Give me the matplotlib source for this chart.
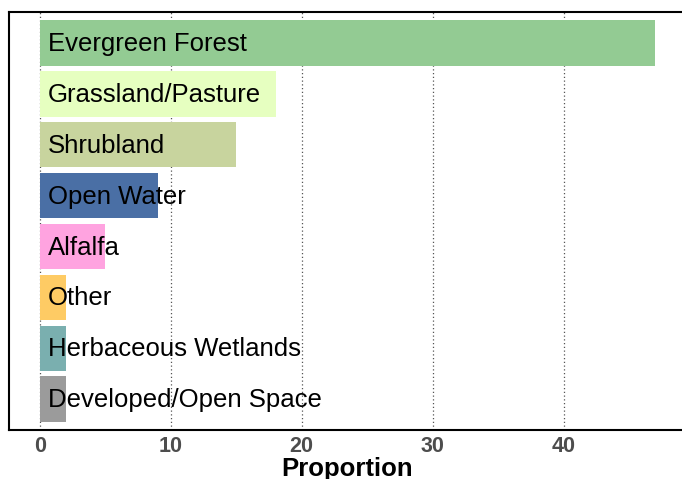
import matplotlib.pyplot as plt

# land cover proportions
categories = ['Evergreen Forest', 'Grassland/Pasture', 'Shrubland', 'Open Water',
              'Alfalfa', 'Other', 'Herbaceous Wetlands', 'Developed/Open Space']
proportion = [47, 18, 15, 9, 5, 2, 2, 2]
bar_colors = ['#93CB93', '#E6FFC0', '#C8D49E', '#4A6FA5',
              '#FFA3E0', '#FECB64', '#7AAFAF', '#9B9B9B']
xticks = [0, 10, 20, 30, 40]

plt.rcParams['font.family'] = ['Liberation Sans', 'DejaVu Sans']

fig = plt.figure(figsize=(6.82, 4.79), dpi=100)
ax = fig.add_axes([9 / 682, 49 / 479, 1 - 9 / 682 + 0.006, (430 - 12) / 479])

ypos = list(range(len(categories)))
ax.barh(ypos, proportion, height=0.9, color=bar_colors, zorder=2)
for y, name in zip(ypos, categories):
    ax.text(0.6, y + 0.02, name, va='center', ha='left', fontsize=18.5, color='black', zorder=3)

ax.set_ylim(len(categories) - 0.4, -0.6)
ax.set_xlim(-2.35, 49.35)
ax.set_yticks([])
ax.set_xticks(xticks)
ax.set_xticklabels([str(t) for t in xticks], fontsize=15.5, fontweight='bold', color='#4D4D4D')
ax.tick_params(axis='x', length=0, pad=4)
ax.grid(axis='x', linestyle=(0, (1, 2)), color='#555555', linewidth=0.9, zorder=1)

for side in ['top', 'bottom', 'left', 'right']:
    ax.spines[side].set_linewidth(1.5)
    ax.spines[side].set_color('black')

ax.set_xlabel('Proportion', fontsize=18.5, fontweight='bold', labelpad=0)

fig.savefig('out.png', dpi=100)
